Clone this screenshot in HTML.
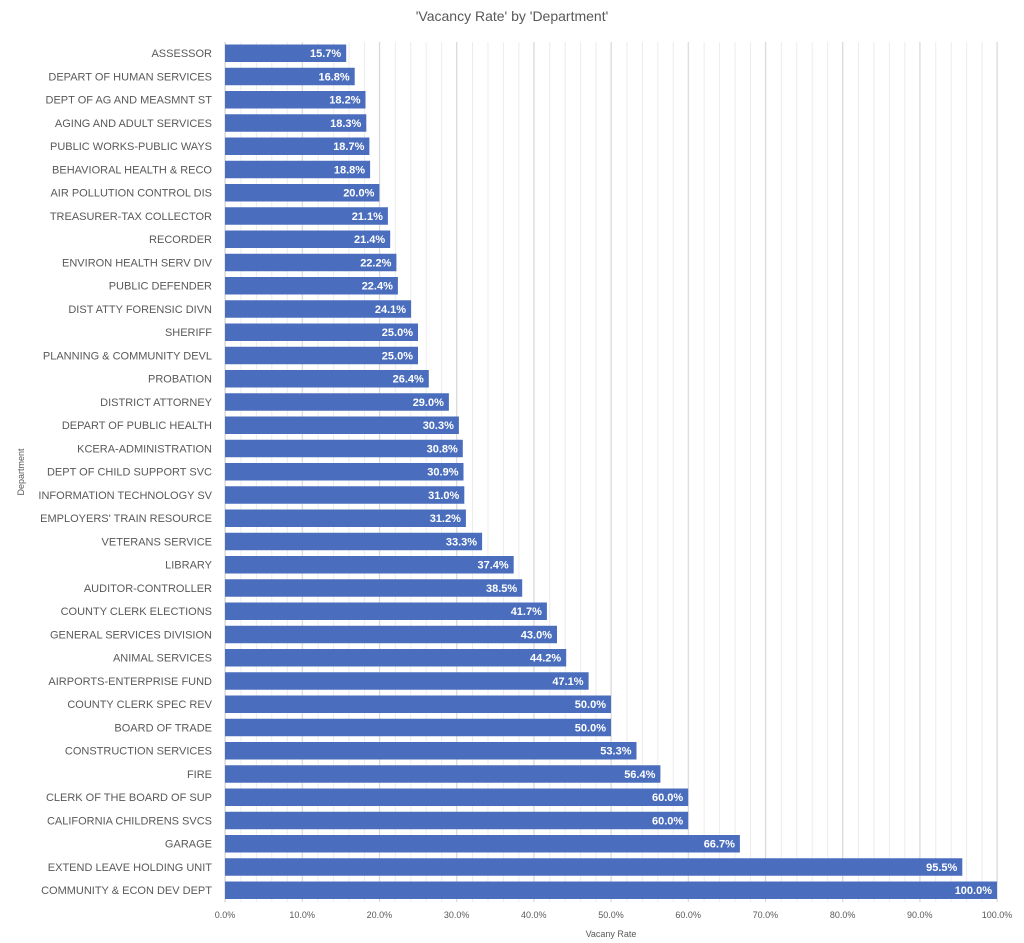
<!DOCTYPE html>
<html><head><meta charset="utf-8"><style>
html,body{margin:0;padding:0;background:#fff}
svg{display:block;font-family:"Liberation Sans",sans-serif}
.l{font-size:11px;fill:#595959;text-anchor:end}
.v{font-size:11px;fill:#fff;font-weight:bold;text-anchor:end}
rect.b{fill:#4a6ebd}
.t{font-size:11px;fill:#595959;text-anchor:middle}
</style></head><body>
<svg width="1024" height="943" viewBox="0 0 1024 943">
<defs><pattern id="mg" x="225" y="0" width="15.44" height="10" patternUnits="userSpaceOnUse"><line x1="0.5" y1="0" x2="0.5" y2="10" stroke="#ececec" stroke-width="1"/></pattern></defs>
<text x="512" y="21" style="font-size:14px;fill:#595959;text-anchor:middle">'Vacancy Rate' by 'Department'</text>
<rect x="225" y="42" width="773" height="860" fill="url(#mg)"/>
<g stroke="#d9d9d9" stroke-width="1">
<line x1="302.2" y1="42" x2="302.2" y2="902"/><line x1="379.4" y1="42" x2="379.4" y2="902"/><line x1="456.6" y1="42" x2="456.6" y2="902"/><line x1="533.8" y1="42" x2="533.8" y2="902"/><line x1="611" y1="42" x2="611" y2="902"/><line x1="688.2" y1="42" x2="688.2" y2="902"/><line x1="765.4" y1="42" x2="765.4" y2="902"/><line x1="842.6" y1="42" x2="842.6" y2="902"/><line x1="919.8" y1="42" x2="919.8" y2="902"/><line x1="997" y1="42" x2="997" y2="902"/>
</g>
<line x1="225" y1="42" x2="225" y2="902" stroke="#d0d0d0"/>
<g transform="translate(0,53.2)"><text x="212" y="4" class="l">ASSESSOR</text><rect class="b" x="225" y="-8.7" width="121.2" height="17.5"/><text x="341.2" y="4" class="v">15.7%</text></g>
<g transform="translate(0,76.45)"><text x="212" y="4" class="l">DEPART OF HUMAN SERVICES</text><rect class="b" x="225" y="-8.7" width="129.7" height="17.5"/><text x="349.7" y="4" class="v">16.8%</text></g>
<g transform="translate(0,99.7)"><text x="212" y="4" class="l">DEPT OF AG AND MEASMNT ST</text><rect class="b" x="225" y="-8.7" width="140.5" height="17.5"/><text x="360.5" y="4" class="v">18.2%</text></g>
<g transform="translate(0,122.95)"><text x="212" y="4" class="l">AGING AND ADULT SERVICES</text><rect class="b" x="225" y="-8.7" width="141.3" height="17.5"/><text x="361.3" y="4" class="v">18.3%</text></g>
<g transform="translate(0,146.2)"><text x="212" y="4" class="l">PUBLIC WORKS-PUBLIC WAYS</text><rect class="b" x="225" y="-8.7" width="144.4" height="17.5"/><text x="364.4" y="4" class="v">18.7%</text></g>
<g transform="translate(0,169.45)"><text x="212" y="4" class="l">BEHAVIORAL HEALTH &amp; RECO</text><rect class="b" x="225" y="-8.7" width="145.1" height="17.5"/><text x="365.1" y="4" class="v">18.8%</text></g>
<g transform="translate(0,192.7)"><text x="212" y="4" class="l">AIR POLLUTION CONTROL DIS</text><rect class="b" x="225" y="-8.7" width="154.4" height="17.5"/><text x="374.4" y="4" class="v">20.0%</text></g>
<g transform="translate(0,215.95)"><text x="212" y="4" class="l">TREASURER-TAX COLLECTOR</text><rect class="b" x="225" y="-8.7" width="162.9" height="17.5"/><text x="382.9" y="4" class="v">21.1%</text></g>
<g transform="translate(0,239.2)"><text x="212" y="4" class="l">RECORDER</text><rect class="b" x="225" y="-8.7" width="165.2" height="17.5"/><text x="385.2" y="4" class="v">21.4%</text></g>
<g transform="translate(0,262.45)"><text x="212" y="4" class="l">ENVIRON HEALTH SERV DIV</text><rect class="b" x="225" y="-8.7" width="171.4" height="17.5"/><text x="391.4" y="4" class="v">22.2%</text></g>
<g transform="translate(0,285.7)"><text x="212" y="4" class="l">PUBLIC DEFENDER</text><rect class="b" x="225" y="-8.7" width="172.9" height="17.5"/><text x="392.9" y="4" class="v">22.4%</text></g>
<g transform="translate(0,308.95)"><text x="212" y="4" class="l">DIST ATTY FORENSIC DIVN</text><rect class="b" x="225" y="-8.7" width="186.1" height="17.5"/><text x="406.1" y="4" class="v">24.1%</text></g>
<g transform="translate(0,332.2)"><text x="212" y="4" class="l">SHERIFF</text><rect class="b" x="225" y="-8.7" width="193" height="17.5"/><text x="413" y="4" class="v">25.0%</text></g>
<g transform="translate(0,355.45)"><text x="212" y="4" class="l">PLANNING &amp; COMMUNITY DEVL</text><rect class="b" x="225" y="-8.7" width="193" height="17.5"/><text x="413" y="4" class="v">25.0%</text></g>
<g transform="translate(0,378.7)"><text x="212" y="4" class="l">PROBATION</text><rect class="b" x="225" y="-8.7" width="203.8" height="17.5"/><text x="423.8" y="4" class="v">26.4%</text></g>
<g transform="translate(0,401.95)"><text x="212" y="4" class="l">DISTRICT ATTORNEY</text><rect class="b" x="225" y="-8.7" width="223.9" height="17.5"/><text x="443.9" y="4" class="v">29.0%</text></g>
<g transform="translate(0,425.2)"><text x="212" y="4" class="l">DEPART OF PUBLIC HEALTH</text><rect class="b" x="225" y="-8.7" width="233.9" height="17.5"/><text x="453.9" y="4" class="v">30.3%</text></g>
<g transform="translate(0,448.45)"><text x="212" y="4" class="l">KCERA-ADMINISTRATION</text><rect class="b" x="225" y="-8.7" width="237.8" height="17.5"/><text x="457.8" y="4" class="v">30.8%</text></g>
<g transform="translate(0,471.7)"><text x="212" y="4" class="l">DEPT OF CHILD SUPPORT SVC</text><rect class="b" x="225" y="-8.7" width="238.5" height="17.5"/><text x="458.5" y="4" class="v">30.9%</text></g>
<g transform="translate(0,494.95)"><text x="212" y="4" class="l">INFORMATION TECHNOLOGY SV</text><rect class="b" x="225" y="-8.7" width="239.3" height="17.5"/><text x="459.3" y="4" class="v">31.0%</text></g>
<g transform="translate(0,518.2)"><text x="212" y="4" class="l">EMPLOYERS' TRAIN RESOURCE</text><rect class="b" x="225" y="-8.7" width="240.9" height="17.5"/><text x="460.9" y="4" class="v">31.2%</text></g>
<g transform="translate(0,541.45)"><text x="212" y="4" class="l">VETERANS SERVICE</text><rect class="b" x="225" y="-8.7" width="257.1" height="17.5"/><text x="477.1" y="4" class="v">33.3%</text></g>
<g transform="translate(0,564.7)"><text x="212" y="4" class="l">LIBRARY</text><rect class="b" x="225" y="-8.7" width="288.7" height="17.5"/><text x="508.7" y="4" class="v">37.4%</text></g>
<g transform="translate(0,587.95)"><text x="212" y="4" class="l">AUDITOR-CONTROLLER</text><rect class="b" x="225" y="-8.7" width="297.2" height="17.5"/><text x="517.2" y="4" class="v">38.5%</text></g>
<g transform="translate(0,611.2)"><text x="212" y="4" class="l">COUNTY CLERK ELECTIONS</text><rect class="b" x="225" y="-8.7" width="321.9" height="17.5"/><text x="541.9" y="4" class="v">41.7%</text></g>
<g transform="translate(0,634.45)"><text x="212" y="4" class="l">GENERAL SERVICES DIVISION</text><rect class="b" x="225" y="-8.7" width="332" height="17.5"/><text x="552" y="4" class="v">43.0%</text></g>
<g transform="translate(0,657.7)"><text x="212" y="4" class="l">ANIMAL SERVICES</text><rect class="b" x="225" y="-8.7" width="341.2" height="17.5"/><text x="561.2" y="4" class="v">44.2%</text></g>
<g transform="translate(0,680.95)"><text x="212" y="4" class="l">AIRPORTS-ENTERPRISE FUND</text><rect class="b" x="225" y="-8.7" width="363.6" height="17.5"/><text x="583.6" y="4" class="v">47.1%</text></g>
<g transform="translate(0,704.2)"><text x="212" y="4" class="l">COUNTY CLERK SPEC REV</text><rect class="b" x="225" y="-8.7" width="386" height="17.5"/><text x="606" y="4" class="v">50.0%</text></g>
<g transform="translate(0,727.45)"><text x="212" y="4" class="l">BOARD OF TRADE</text><rect class="b" x="225" y="-8.7" width="386" height="17.5"/><text x="606" y="4" class="v">50.0%</text></g>
<g transform="translate(0,750.7)"><text x="212" y="4" class="l">CONSTRUCTION SERVICES</text><rect class="b" x="225" y="-8.7" width="411.5" height="17.5"/><text x="631.5" y="4" class="v">53.3%</text></g>
<g transform="translate(0,773.95)"><text x="212" y="4" class="l">FIRE</text><rect class="b" x="225" y="-8.7" width="435.4" height="17.5"/><text x="655.4" y="4" class="v">56.4%</text></g>
<g transform="translate(0,797.2)"><text x="212" y="4" class="l">CLERK OF THE BOARD OF SUP</text><rect class="b" x="225" y="-8.7" width="463.2" height="17.5"/><text x="683.2" y="4" class="v">60.0%</text></g>
<g transform="translate(0,820.45)"><text x="212" y="4" class="l">CALIFORNIA CHILDRENS SVCS</text><rect class="b" x="225" y="-8.7" width="463.2" height="17.5"/><text x="683.2" y="4" class="v">60.0%</text></g>
<g transform="translate(0,843.7)"><text x="212" y="4" class="l">GARAGE</text><rect class="b" x="225" y="-8.7" width="514.9" height="17.5"/><text x="734.9" y="4" class="v">66.7%</text></g>
<g transform="translate(0,866.95)"><text x="212" y="4" class="l">EXTEND LEAVE HOLDING UNIT</text><rect class="b" x="225" y="-8.7" width="737.3" height="17.5"/><text x="957.3" y="4" class="v">95.5%</text></g>
<g transform="translate(0,890.2)"><text x="212" y="4" class="l">COMMUNITY &amp; ECON DEV DEPT</text><rect class="b" x="225" y="-8.7" width="772" height="17.5"/><text x="992" y="4" class="v">100.0%</text></g>
<g style="font-size:9px;fill:#595959;text-anchor:middle">
<text x="225" y="918">0.0%</text><text x="302.2" y="918">10.0%</text><text x="379.4" y="918">20.0%</text><text x="456.6" y="918">30.0%</text><text x="533.8" y="918">40.0%</text><text x="611" y="918">50.0%</text><text x="688.2" y="918">60.0%</text><text x="765.4" y="918">70.0%</text><text x="842.6" y="918">80.0%</text><text x="919.8" y="918">90.0%</text><text x="997" y="918">100.0%</text>
</g>
<text x="611" y="937" style="font-size:9px;fill:#595959;text-anchor:middle">Vacany Rate</text>
<text transform="translate(24,472) rotate(-90)" style="font-size:9px;fill:#595959;text-anchor:middle">Department</text>
</svg>
</body></html>
